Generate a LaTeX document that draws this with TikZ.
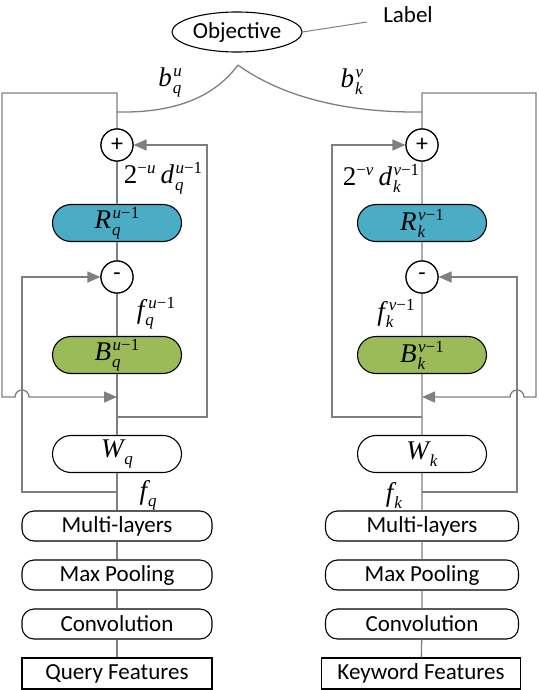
\documentclass[tikz,border=0pt]{standalone}
\usepackage{fontspec}
\setmainfont{Carlito}
\newfontfamily\tnr{Liberation Serif}
\usetikzlibrary{arrows.meta,shapes.geometric}
\definecolor{lncol}{HTML}{7F7F7F}
\definecolor{rcol}{HTML}{4BACC6}
\definecolor{bcol}{HTML}{9BBB59}
\newcommand\mbase[1]{\hbox{\fontsize{27}{27}\selectfont\tnr\itshape #1}}
\newcommand\mup[1]{\hbox{\fontsize{27}{27}\selectfont\tnr #1}}
\newcommand\mscr[1]{\hbox{\fontsize{17}{17}\selectfont\tnr #1}}
\newcommand\SupSubK[4]{\mbase{#1}\setbox0\hbox{\kern#4\raisebox{10pt}{\mscr{#3}}}\setbox2\hbox{\kern1pt\raisebox{-7pt}{\mscr{#2}}}\ifdim\wd0>\wd2 \rlap{\box2}\box0\else\rlap{\box0}\box2\fi}
\newcommand\SupSub[3]{\SupSubK{#1}{#2}{#3}{1.5pt}}
\newcommand\SubOnly[2]{\mbase{#1}\kern1pt\raisebox{-7pt}{\mscr{#2}}}
\tikzset{
  ln/.style={draw=lncol, line width=1.3pt},
  arr/.style={-{Triangle[length=13pt,width=11pt]}},
  pill/.style={draw=black, line width=1.1pt, rounded corners=18.5pt, minimum width=129pt, minimum height=37pt, inner sep=0pt},
  opc/.style={circle, draw=black, line width=1.2pt, minimum size=32pt, inner sep=0pt, fill=white, font=\fontsize{24}{24}\selectfont},
  layer/.style={draw=black, line width=1.1pt, rounded corners=12pt, minimum width=190pt, minimum height=30pt, inner sep=0pt, font=\fontsize{23}{23}\selectfont},
  feat/.style={draw=black, line width=1.1pt, minimum height=31pt, inner sep=0pt, font=\fontsize{23}{23}\selectfont},
  lbl/.style={inner sep=0pt}
}
\begin{document}
\begin{tikzpicture}[x=1pt,y=1pt]
\path[use as bounding box] (0,0) rectangle (538,-690);
% objective
\node[ellipse, draw=black, line width=1.1pt, minimum width=130pt, minimum height=40pt, inner sep=0pt, font=\fontsize{23}{23}\selectfont] (obj) at (237,-32) {Objective};
\node[font=\fontsize{23}{23}\selectfont, inner sep=0pt] (lab) at (408,-15) {Label};
\coordinate (labtail) at (367,-22);
\draw[draw=lncol, line width=1pt] (obj.east) -- (labtail);
\coordinate (apex) at (238,-65);
\coordinate (mL) at (117,-112);
\coordinate (mR) at (422,-112);
% left column
\node[opc] (plusL) at (117,-145) {+};
\node[pill, fill=rcol] (RL) at (117,-223) {\SupSub{R}{\textit{q}}{\textit{u}−1}};
\node[opc] (minusL) at (117,-277) {-};
\node[pill, fill=bcol] (BL) at (117,-355) {\SupSub{B}{\textit{q}}{\textit{u}−1}};
\node[pill, fill=white] (WL) at (117,-454) {\SubOnly{W}{\textit{q}}};
\node[layer] (mlL) at (117,-526) {Multi-layers};
\node[layer] (mpL) at (117,-575) {Max Pooling};
\node[layer] (cvL) at (117,-624) {Convolution};
\node[feat, minimum width=190pt] (qfL) at (117,-673.5) {Query Features};
% right column
\node[opc] (plusR) at (422,-145) {+};
\node[pill, fill=rcol] (RR) at (422,-223) {\SupSub{R}{\textit{k}}{\textit{v}−1}};
\node[opc] (minusR) at (422,-277) {-};
\node[pill, fill=bcol] (BR) at (422,-355) {\SupSub{B}{\textit{k}}{\textit{v}−1}};
\node[pill, fill=white] (WR) at (422,-454) {\SubOnly{W}{\textit{k}}};
\node[layer, minimum width=193pt] (mlR) at (422,-526) {Multi-layers};
\node[layer, minimum width=193pt] (mpR) at (422,-575) {Max Pooling};
\node[layer, minimum width=193pt] (cvR) at (422,-624) {Convolution};
\node[feat, minimum width=199pt] (kfR) at (421,-673.5) {Keyword Features};
% labels
\node[lbl] (bq) at (170,-82) {\SupSub{b}{\textit{q}}{\textit{u}}};
\node[lbl] (bk) at (352,-82) {\SupSub{b}{\textit{k}}{\textit{v}}};
\node[lbl] (dq) at (163,-178) {\mup{2}\raisebox{10pt}{\mscr{−\textit{u}}}\kern5pt\SupSub{d}{\textit{q}}{\textit{u}−1}};
\node[lbl] (dk) at (381,-178) {\mup{2}\raisebox{10pt}{\mscr{−\textit{v}}}\kern5pt\SupSub{d}{\textit{k}}{\textit{v}−1}};
\node[lbl] (fqu) at (156,-313) {\SupSubK{f}{\textit{q}}{\textit{u}−1}{4pt}};
\node[lbl] (fkv) at (396,-313) {\SupSubK{f}{\textit{k}}{\textit{v}−1}{4pt}};
\node[lbl] (fq) at (148,-495) {\SubOnly{f}{\textit{q}}};
\node[lbl] (fk) at (394,-495) {\SubOnly{f}{\textit{k}}};
% coordinates
\coordinate (jL) at (117,-397);
\coordinate (fbL) at (117,-417);
\coordinate (fqL) at (117,-492);
\coordinate (jR) at (422,-397);
\coordinate (fbR) at (422,-417);
\coordinate (fqR) at (422,-492);
% curves from objective
\draw[ln] (apex) .. controls (212,-100) and (170,-113) .. (mL);
\draw[ln] (apex) .. controls (275,-92) and (335,-113) .. (mR);
% chains
\draw[ln] (plusL) -- (RL) (RL) -- (minusL) (minusL) -- (BL) (BL) -- (WL) (WL) -- (mlL) (mlL) -- (mpL) (mpL) -- (cvL) (cvL) -- (qfL);
\draw[ln] (plusR) -- (RR) (RR) -- (minusR) (minusR) -- (BR) (BR) -- (WR) (WR) -- (mlR) (mlR) -- (mpR) (mpR) -- (cvR) (cvR) -- (kfR);
% left loops
\draw[ln, arr] (plusL.north) -- (117,-93) -- (2,-93) -- (2,-397) -- (15,-397) arc[start angle=180, end angle=0, radius=7] -- (jL);
\draw[ln, arr] (fbL) -- (207,-417) -- (207,-145) -- (plusL.east);
\draw[ln, arr] (fqL) -- (22,-492) -- (22,-277) -- (minusL.west);
% right loops
\draw[ln, arr] (plusR.north) -- (422,-93) -- (536,-93) -- (536,-397) -- (524,-397) arc[start angle=0, end angle=180, radius=7] -- (jR);
\draw[ln, arr] (fbR) -- (332,-417) -- (332,-145) -- (plusR.west);
\draw[ln, arr] (fqR) -- (517,-492) -- (517,-277) -- (minusR.east);
% redraw operator nodes on top
\node[opc] at (plusL) {+};
\node[opc] at (minusL) {-};
\node[opc] at (plusR) {+};
\node[opc] at (minusR) {-};
\end{tikzpicture}
\end{document}
